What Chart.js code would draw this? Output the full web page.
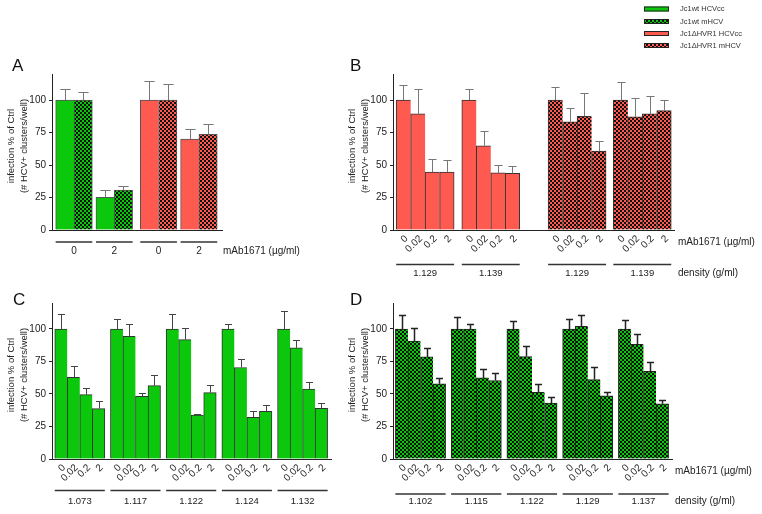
<!DOCTYPE html>
<html>
<head>
<meta charset="utf-8">
<script src="https://cdn.jsdelivr.net/npm/chart.js@4.4.1/dist/chart.umd.min.js"></script>
<style>
    body { margin: 0; background: #fff; width: 762px; height: 514px; position: relative; overflow: hidden; }
    canvas { position: absolute; }
</style>
</head>
<body>
<canvas id="panel-a" width="342" height="283" style="left:0;top:0"></canvas>
<canvas id="panel-b" width="420" height="283" style="left:342px;top:0"></canvas>
<canvas id="panel-c" width="342" height="231" style="left:0;top:283px"></canvas>
<canvas id="panel-d" width="420" height="231" style="left:342px;top:283px"></canvas>
<script>
const doses = ['0', '0.02', '0.2', '2'];
const dosesA = ['0', '2'];
const yTicks = [0, 25, 50, 75, 100];
const legendLabels = ['Jc1wt HCVcc', 'Jc1wt mHCV', 'Jc1\u0394HVR1 HCVcc', 'Jc1\u0394HVR1 mHCV'];

// panel A (0 and 2 µg/ml), mean and error
const wtHCVcc = [100, 25.2];
const wtHCVccErr = [8.2, 5.4];
const wtMHCV = [100, 30.8];
const wtMHCVErr = [5.8, 3.2];
const dHCVcc = [100, 69.9];
const dHCVccErr = [14.9, 7.7];
const dMHCV = [100, 73.5];
const dMHCVErr = [12.1, 8.2];

// panel B, Jc1ΔHVR1 fractions
const densB = ['1.129', '1.139'];
const bHCVcc = [[100, 89.3, 44.6, 44.6], [100, 64.8, 43.9, 43.6]];
const bHCVccErr = [[11.7, 19.1, 10, 9.2], [8.2, 11.2, 5.8, 5.4]];
const bMHCV = [[100, 83.2, 87.5, 60.7], [100, 87, 89.3, 91.8]];
const bMHCVErr = [[9.7, 10.4, 17.6, 7.9], [14, 14.8, 13.5, 7.9]];

// panel C, Jc1wt HCVcc fractions
const densC = ['1.073', '1.117', '1.122', '1.124', '1.132'];
const cVals = [[100, 62.8, 49.5, 38.8], [100, 94.4, 48.2, 56.4], [100, 91.8, 33.7, 51], [100, 70.4, 32.1, 36.7], [100, 85.5, 53.8, 39]];
const cErr = [[11.7, 9.1, 4.8, 5.6], [7.4, 9.7, 2.3, 7.9], [11.7, 9, 1.3, 6.1], [4.1, 6.9, 4.9, 4.6], [13.8, 6.1, 5.1, 4.1]];

// panel D, Jc1wt mHCV fractions
const densD = ['1.102', '1.115', '1.122', '1.129', '1.137'];
const dVals = [[100, 90.8, 78.5, 57.8], [100, 100, 62.4, 60.4], [100, 78.8, 51.2, 43], [100, 102, 61.1, 48.6], [100, 88.2, 67.5, 42.5]];
const dErr = [[10.5, 10.2, 7.2, 4.3], [9.5, 3.8, 7.2, 6.1], [6.4, 7.9, 6.6, 4.8], [7.4, 9, 10, 3.1], [7.2, 7.7, 6.9, 3]];

const GREEN = '#0cc80c';
const RED = '#ff5a50';
const FONT = '"Liberation Sans", Arial, sans-serif';
const TEXT = '#222';

function checker(ctx, color) {
    const c = document.createElement('canvas');
    c.width = 4; c.height = 4;
    const g = c.getContext('2d');
    g.fillStyle = color;
    g.fillRect(0, 0, 4, 4);
    g.fillStyle = '#111';
    g.fillRect(0, 0, 2, 2);
    g.fillRect(2, 2, 2, 2);
    return ctx.createPattern(c, 'repeat');
}

// lay bars out on a linear axis, one unit per bar, with gaps between groups
function buildBars(groups, gaps, endGap) {
    const pts = [], errs = [], fills = [], ticks = [], last = [], spans = [];
    let cur = 0;
    groups.forEach((grp, i) => {
        cur += gaps[i];
        const start = cur;
        grp.vals.forEach((v, j) => {
            pts.push({ x: cur + 0.5, y: v });
            errs.push(grp.errs[j]);
            fills.push(grp.fills[j]);
            ticks.push(grp.ticks ? grp.ticks[j] : '');
            last.push(j === grp.vals.length - 1);
            cur += 1;
        });
        spans.push({ from: start, to: cur, label: grp.label });
    });
    return { pts, errs, fills, ticks, last, spans, max: cur + endGap };
}

function drawPanel(id, groups, o) {
    const ctx = document.getElementById(id).getContext('2d');
    const fills = { g: GREEN, r: RED, gp: checker(ctx, GREEN), rp: checker(ctx, RED) };
    const bars = buildBars(groups, o.gaps, o.end);

    const annotate = {
        id: 'annotate',
        afterDatasetsDraw(chart) {
            const c = chart.ctx;
            const a = chart.chartArea;
            const x = chart.scales.x, y = chart.scales.y;
            const unit = x.getPixelForValue(1) - x.getPixelForValue(0);
            c.save();

            // error bars (upper only)
            c.strokeStyle = o.errColor;
            c.lineWidth = o.errWidth;
            bars.pts.forEach((p, i) => {
                const cx = Math.round(x.getPixelForValue(p.x)) + 0.5;
                const y0 = y.getPixelForValue(p.y);
                const y1 = Math.round(y.getPixelForValue(p.y + bars.errs[i])) + 0.5;
                const hw = unit * 0.28;
                c.beginPath();
                c.moveTo(cx, y0);
                c.lineTo(cx, y1);
                c.moveTo(cx - hw, y1);
                c.lineTo(cx + hw, y1);
                c.stroke();
            });

            c.fillStyle = TEXT;
            c.font = '10px ' + FONT;

            // rotated dose labels
            if (o.rotated) {
                bars.pts.forEach((p, i) => {
                    const cx = x.getPixelForValue(p.x);
                    c.save();
                    c.translate(cx + 3, a.bottom + 7);
                    c.rotate(-Math.PI / 4);
                    c.textAlign = 'right';
                    c.textBaseline = 'middle';
                    c.fillText(bars.ticks[i], 0, 0);
                    c.restore();
                });
            }

            // group underlines and labels
            c.strokeStyle = '#333';
            c.lineWidth = 1.4;
            c.textAlign = 'center';
            c.textBaseline = 'middle';
            c.font = (o.rotated ? '9.5px ' : '10px ') + FONT;
            bars.spans.forEach(s => {
                const x0 = x.getPixelForValue(s.from), x1 = x.getPixelForValue(s.to);
                c.beginPath();
                c.moveTo(x0, a.bottom + o.lineY);
                c.lineTo(x1, a.bottom + o.lineY);
                c.stroke();
                c.fillText(s.label, (x0 + x1) / 2, a.bottom + o.labelY);
            });

            c.textAlign = 'left';
            c.font = '10px ' + FONT;
            if (o.mabY != null) c.fillText('mAb1671 (\u00b5g/ml)', a.right + o.sideX, a.bottom + o.mabY);
            if (o.density) c.fillText('density (g/ml)', a.right + o.sideX, a.bottom + o.labelY);

            // y axis title
            c.save();
            c.font = '9.5px ' + FONT;
            c.translate(a.left - 41, (a.top + a.bottom) / 2 - 6);
            c.rotate(-Math.PI / 2);
            c.textAlign = 'center';
            c.fillText('infection % of Ctrl', 0, 0);
            c.fillText('(# HCV+ clusters/well)', 0, 13);
            c.restore();

            // panel letter
            c.font = '17px ' + FONT;
            c.textBaseline = 'alphabetic';
            c.fillStyle = '#111';
            c.fillText(o.letter, o.letterX, o.letterY);

            // shared legend
            if (o.legend) {
                const sw = [fills.g, fills.gp, fills.r, fills.rp];
                c.font = '7.5px ' + FONT;
                c.textBaseline = 'middle';
                legendLabels.forEach((t, i) => {
                    const ly = [9, 21.5, 33.5, 45.5][i];
                    c.fillStyle = sw[i];
                    c.fillRect(302, ly - 2.5, 25, 5);
                    c.strokeStyle = '#222';
                    c.lineWidth = 1;
                    c.strokeRect(302.5, ly - 2, 24, 4);
                    c.fillStyle = '#333';
                    c.fillText(t, 338, ly);
                });
            }
            c.restore();
        }
    };

    new Chart(ctx, {
        type: 'bar',
        data: {
            datasets: [{
                data: bars.pts,
                backgroundColor: bars.fills.map(f => fills[f]),
                borderColor: o.border,
                borderWidth: c => ({ top: 1, left: 1, bottom: 0, right: bars.last[c.dataIndex] ? 1 : 0 }),
                borderSkipped: false,
                barPercentage: 1,
                categoryPercentage: 1,
                grouped: false
            }]
        },
        options: {
            responsive: false,
            animation: false,
            layout: { padding: { left: 0, top: o.top, right: o.right, bottom: 0 } },
            plugins: { legend: { display: false }, tooltip: { enabled: false } },
            scales: {
                x: {
                    type: 'linear',
                    min: 0,
                    max: bars.max,
                    offset: false,
                    grid: { display: false },
                    ticks: { display: false },
                    border: { color: '#222', width: 1 },
                    afterBuildTicks: s => { s.ticks = []; },
                    afterFit: s => { s.height = o.xh; }
                },
                y: {
                    min: 0,
                    max: 120,
                    afterBuildTicks: s => { s.ticks = yTicks.map(v => ({ value: v })); },
                    ticks: { color: TEXT, padding: 3, font: { family: FONT, size: 10 } },
                    grid: { drawOnChartArea: false, tickLength: 3, color: '#222' },
                    border: { color: '#222', width: 1 },
                    afterFit: s => { s.width = o.yw; }
                }
            }
        },
        plugins: [annotate]
    });
}

document.addEventListener('DOMContentLoaded', () => {
    const groupsA = [
        ...dosesA.map((d, i) => ({ vals: [wtHCVcc[i], wtMHCV[i]], errs: [wtHCVccErr[i], wtMHCVErr[i]], fills: ['g', 'gp'], label: d })),
        ...dosesA.map((d, i) => ({ vals: [dHCVcc[i], dMHCV[i]], errs: [dHCVccErr[i], dMHCVErr[i]], fills: ['r', 'rp'], label: d }))
    ];
    drawPanel('panel-a', groupsA, {
        letter: 'A', letterX: 12, letterY: 71,
        gaps: [0.2, 0.2, 0.42, 0.2], end: 0.26,
        top: 74, right: 120, yw: 52, xh: 53,
        border: '#555', errColor: '#777', errWidth: 1,
        rotated: false, lineY: 12, labelY: 21, mabY: 21, sideX: 1, density: false
    });

    const groupsB = [
        ...bHCVcc.map((v, i) => ({ vals: v, errs: bHCVccErr[i], fills: v.map(() => 'r'), ticks: doses, label: densB[i] })),
        ...bMHCV.map((v, i) => ({ vals: v, errs: bMHCVErr[i], fills: v.map(() => 'rp'), ticks: doses, label: densB[i] }))
    ];
    drawPanel('panel-b', groupsB, {
        letter: 'B', letterX: 8, letterY: 71, legend: true,
        gaps: [0.22, 0.53, 1.96, 0.5], end: 0.19,
        top: 74, right: 88, yw: 51, xh: 53,
        border: '#333', errColor: '#777', errWidth: 1,
        rotated: true, lineY: 34.5, labelY: 43.5, mabY: 12, sideX: 4, density: true
    });

    const groupsC = cVals.map((v, i) => ({ vals: v, errs: cErr[i], fills: v.map(() => 'g'), ticks: doses, label: densC[i] }));
    drawPanel('panel-c', groupsC, {
        letter: 'C', letterX: 13, letterY: 22,
        gaps: [0.22, 0.45, 0.45, 0.45, 0.45], end: 0.27,
        top: 20, right: 11, yw: 52, xh: 55,
        border: '#333', errColor: '#444', errWidth: 1,
        rotated: true, lineY: 31.5, labelY: 42, mabY: null, sideX: 3, density: false
    });

    const groupsD = dVals.map((v, i) => ({ vals: v, errs: dErr[i], fills: v.map(() => 'gp'), ticks: doses, label: densD[i] }));
    drawPanel('panel-d', groupsD, {
        letter: 'D', letterX: 8, letterY: 22,
        gaps: [0.19, 0.44, 0.44, 0.44, 0.44], end: 0.27,
        top: 20, right: 90, yw: 51, xh: 55,
        border: '#222', errColor: '#222', errWidth: 1.5,
        rotated: true, lineY: 35, labelY: 42, mabY: 12, sideX: 3, density: true
    });
});
</script>
</body>
</html>
